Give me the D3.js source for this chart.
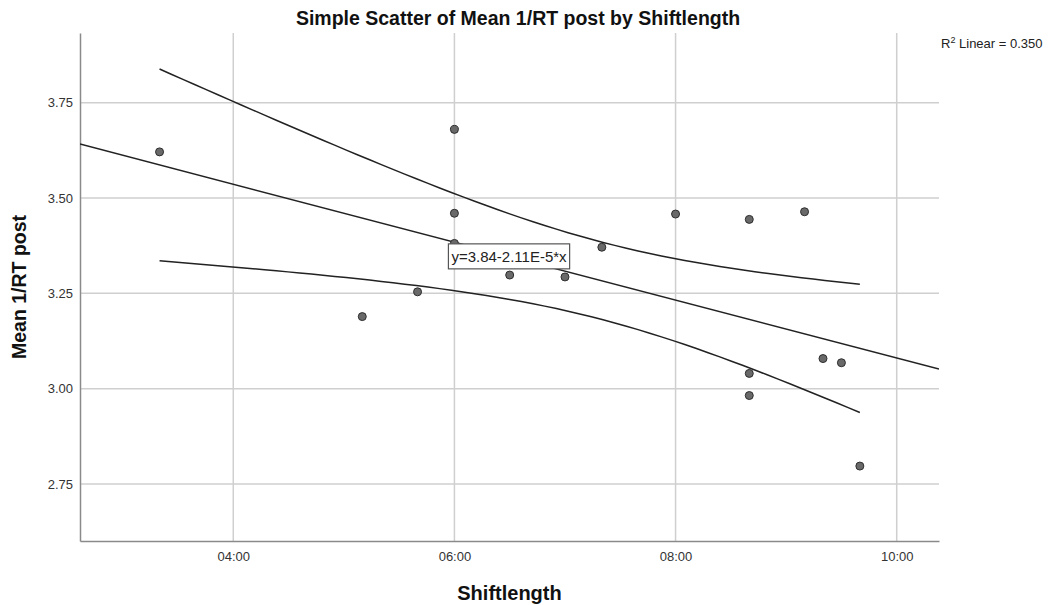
<!DOCTYPE html>
<html>
<head>
<meta charset="utf-8">
<script src="https://cdn.jsdelivr.net/npm/d3@7"></script>
<style>
body { margin: 0; background: #fff; }
text { font-family: Arial, "Liberation Sans", sans-serif; }
</style>
</head>
<body>
<div id="chart"></div>
<script>
// shift length (hh:mm) and Mean 1/RT post
var shiftLengths = ["03:20", "05:10", "05:40", "06:00", "06:00", "06:00", "06:30", "07:00", "07:20",
                    "08:00", "08:40", "09:10", "09:20", "09:30", "08:40", "08:40", "09:40"];
var meanRT = [3.621, 3.189, 3.254, 3.680, 3.460, 3.381, 3.298, 3.293, 3.371,
              3.458, 3.444, 3.464, 3.079, 3.068, 3.040, 2.982, 2.797];
var xTicks = ["04:00", "06:00", "08:00", "10:00"];
var yTicks = [2.75, 3.00, 3.25, 3.50, 3.75];
var xDomain = [9410, 37377];     // seconds
var yDomain = [2.6005, 3.9328];
var fitCoef = [3.84, -2.11e-5];  // from the equation label (x in seconds)
var tCrit = 2.131;               // t(0.975, df = 15)
var eqLabel = "y=3.84-2.11E-5*x";
var r2Label = "0.350";

function toSec(s) {
    var p = s.split(":");
    return (+p[0]) * 3600 + (+p[1]) * 60;
}
function fmtTime(sec) {
    var h = Math.floor(sec / 3600), m = Math.round((sec % 3600) / 60);
    return (h < 10 ? "0" : "") + h + ":" + (m < 10 ? "0" : "") + m;
}

var data = shiftLengths.map(function (d, i) {
    return {x: toSec(d), y: meanRT[i]};
});

// fit line + 95% CI of the mean (residual error from the least squares fit)
var n = data.length;
var mx = d3.mean(data, function (d) { return d.x; });
var my = d3.mean(data, function (d) { return d.y; });
var sxx = d3.sum(data, function (d) { return (d.x - mx) * (d.x - mx); });
var sxy = d3.sum(data, function (d) { return (d.x - mx) * (d.y - my); });
var syy = d3.sum(data, function (d) { return (d.y - my) * (d.y - my); });
var se = Math.sqrt((syy - sxy * sxy / sxx) / (n - 2));
function fit(x) { return fitCoef[0] + fitCoef[1] * x; }
function half(x) { return tCrit * se * Math.sqrt(1 / n + (x - mx) * (x - mx) / sxx); }

var svg = d3.select("#chart").append("svg").attr("width", 1056).attr("height", 605),
    margin = {top: 33, right: 117, bottom: 64, left: 80},
    width = 1056 - margin.left - margin.right,
    height = 605 - margin.top - margin.bottom;

var x = d3.scaleLinear().domain(xDomain).range([0, width]);
var y = d3.scaleLinear().domain(yDomain).range([height, 0]);

var g = svg.append("g").attr("transform", "translate(" + margin.left + "," + margin.top + ")");

g.append("clipPath").attr("id", "clip").append("rect")
    .attr("width", width).attr("height", height);

// grid
g.selectAll(".vgrid").data(xTicks).enter().append("line")
    .attr("x1", function (d) { return x(toSec(d)); })
    .attr("x2", function (d) { return x(toSec(d)); })
    .attr("y1", 0).attr("y2", height)
    .attr("stroke", "#cfcfcf").attr("stroke-width", 1.5);
g.selectAll(".hgrid").data(yTicks).enter().append("line")
    .attr("x1", 0).attr("x2", width)
    .attr("y1", function (d) { return y(d); })
    .attr("y2", function (d) { return y(d); })
    .attr("stroke", "#cfcfcf").attr("stroke-width", 1.5);

// axes
var xAxis = g.append("g")
    .attr("transform", "translate(0," + height + ")")
    .call(d3.axisBottom(x).tickValues(xTicks.map(toSec)).tickSize(0).tickPadding(11).tickFormat(fmtTime));
var yAxis = g.append("g")
    .call(d3.axisLeft(y).tickValues(yTicks).tickSize(0).tickPadding(7).tickFormat(d3.format(".2f")));
[xAxis, yAxis].forEach(function (a) {
    a.select(".domain").attr("stroke", "#8a8a8a").attr("stroke-width", 1.5);
    a.selectAll("text").attr("font-size", 13).attr("fill", "#333")
        .attr("font-family", "Arial, 'Liberation Sans', sans-serif");
});

// fit line and CI curves
var xmin = d3.min(data, function (d) { return d.x; }),
    xmax = d3.max(data, function (d) { return d.x; });
var xs = d3.range(0, 61).map(function (i) { return xmin + (xmax - xmin) * i / 60; });
var line = d3.line()
    .x(function (d) { return x(d[0]); })
    .y(function (d) { return y(d[1]); });

g.append("path")
    .datum(xDomain.map(function (v) { return [v, fit(v)]; }))
    .attr("d", line).attr("clip-path", "url(#clip)")
    .attr("fill", "none").attr("stroke", "#222").attr("stroke-width", 1.5);
g.append("path")
    .datum(xs.map(function (v) { return [v, fit(v) + half(v)]; }))
    .attr("d", line).attr("fill", "none").attr("stroke", "#222").attr("stroke-width", 1.5);
g.append("path")
    .datum(xs.map(function (v) { return [v, fit(v) - half(v)]; }))
    .attr("d", line).attr("fill", "none").attr("stroke", "#222").attr("stroke-width", 1.5);

// points
g.selectAll(".dot").data(data).enter().append("circle")
    .attr("cx", function (d) { return x(d.x); })
    .attr("cy", function (d) { return y(d.y); })
    .attr("r", 4)
    .attr("fill", "#696969").attr("stroke", "#2e2e2e").attr("stroke-width", 1);

// equation label
var lab = g.append("g").attr("transform", "translate(" + (x(toSec("06:00")) - 6) + "," + (y(3.347) - 12.5) + ")");
var lt = lab.append("text").attr("x", 3).attr("y", 18).attr("font-size", 15).attr("fill", "#222").text(eqLabel);
var lw = lt.node().getComputedTextLength();
lab.insert("rect", "text").attr("width", lw + 6).attr("height", 25)
    .attr("fill", "#fff").attr("stroke", "#555").attr("stroke-width", 1.2);

// titles
svg.append("text").attr("x", 518).attr("y", 25).attr("text-anchor", "middle")
    .attr("font-size", 19.5).attr("font-weight", "bold").attr("fill", "#111")
    .text("Simple Scatter of Mean 1/RT post by Shiftlength");
svg.append("text").attr("x", margin.left + width / 2).attr("y", 600).attr("text-anchor", "middle")
    .attr("font-size", 20).attr("font-weight", "bold").attr("fill", "#111")
    .text("Shiftlength");
svg.append("text").attr("transform", "translate(26," + (margin.top + height / 2) + ") rotate(-90)")
    .attr("text-anchor", "middle")
    .attr("font-size", 19.5).attr("font-weight", "bold").attr("fill", "#111")
    .text("Mean 1/RT post");

var r2 = svg.append("text").attr("x", 941).attr("y", 48).attr("font-size", 13).attr("fill", "#222");
r2.append("tspan").text("R");
r2.append("tspan").attr("font-size", 9).attr("dy", -5).text("2");
r2.append("tspan").attr("dy", 5).text(" Linear = " + r2Label);
</script>
</body>
</html>
